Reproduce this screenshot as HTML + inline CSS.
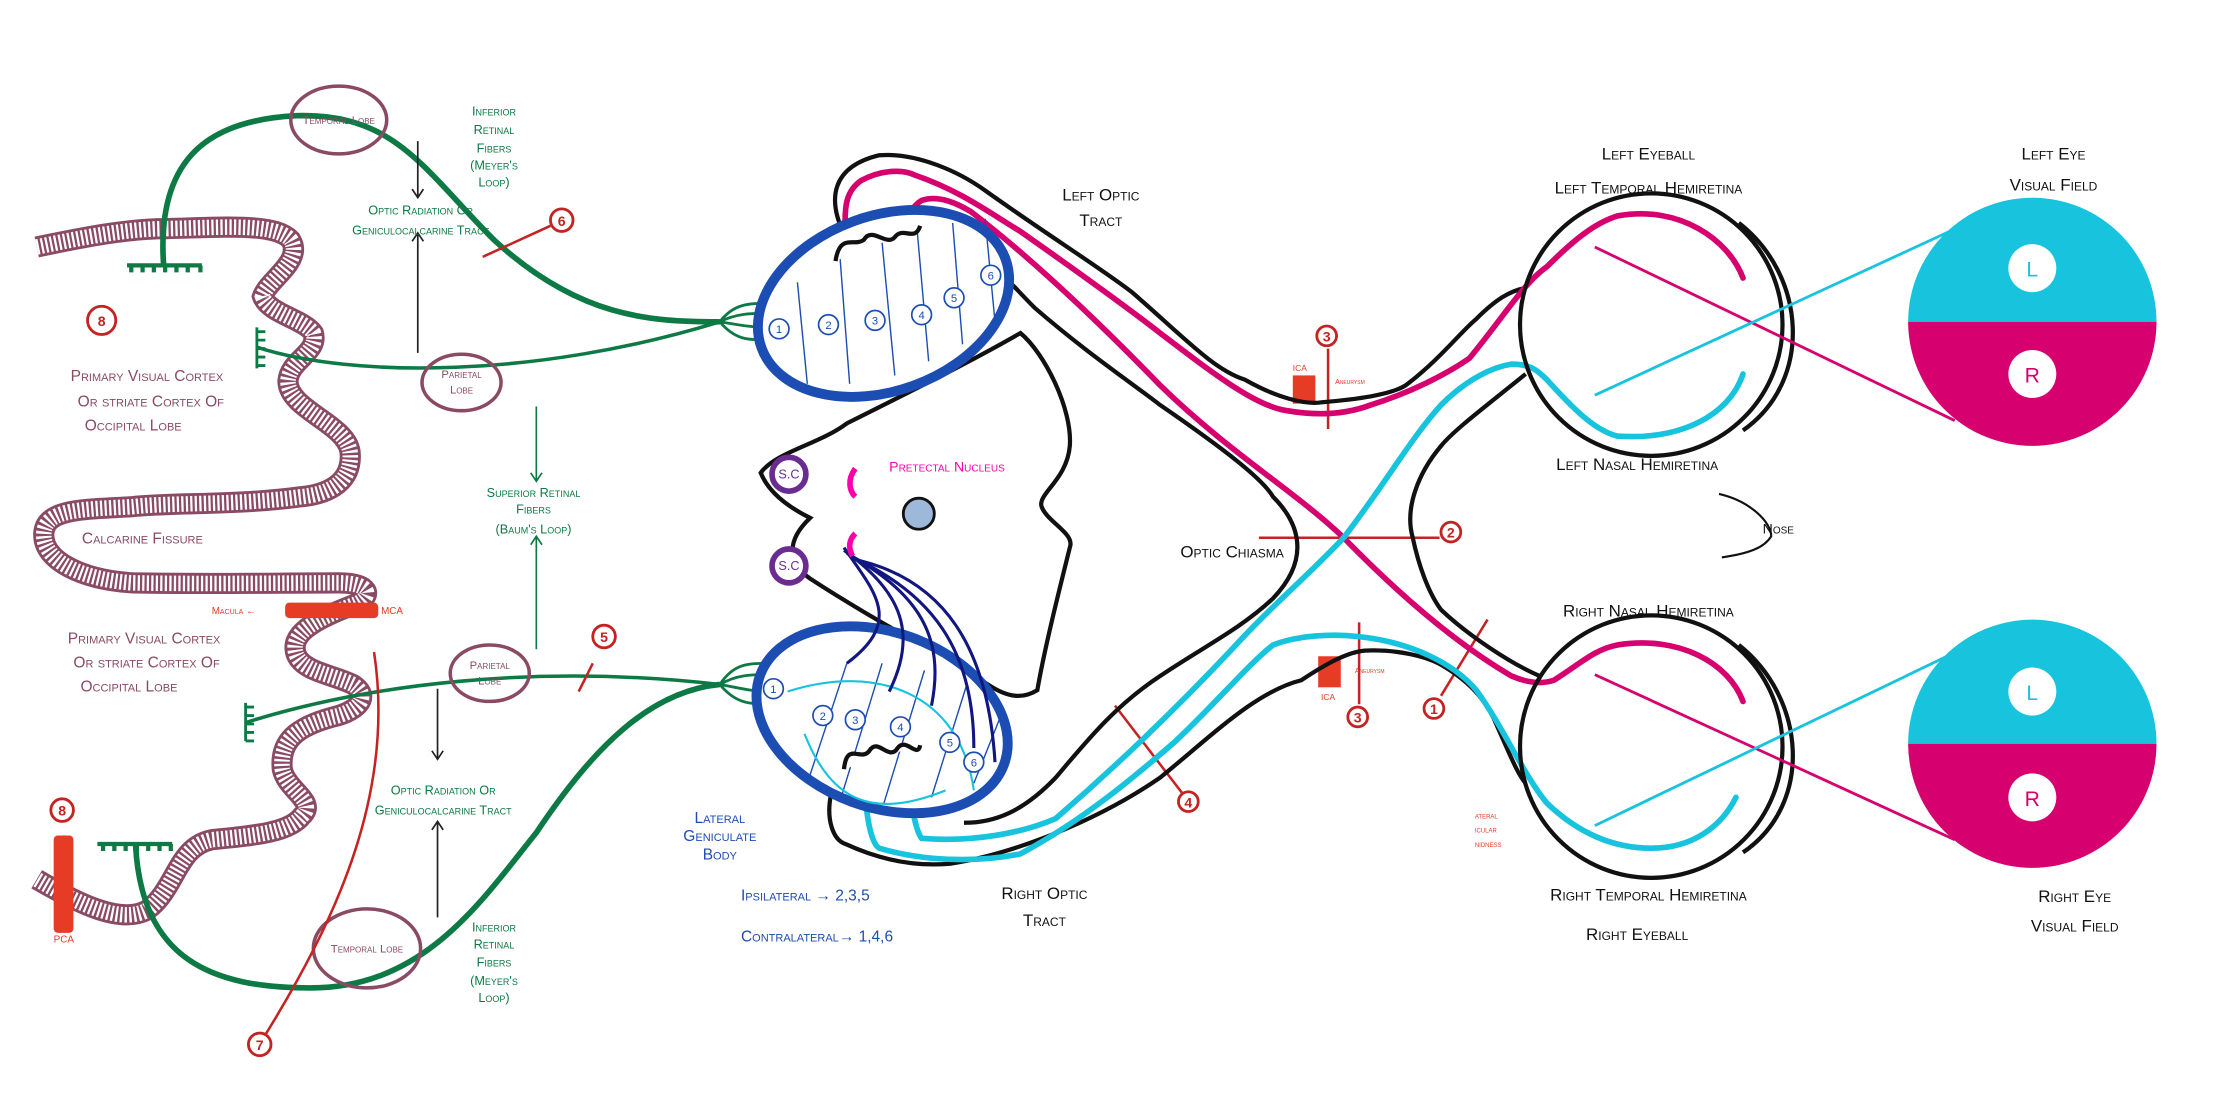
<!DOCTYPE html>
<html><head><meta charset="utf-8"><style>
html,body{margin:0;padding:0;background:#fff;}
svg{display:block;}
text{font-family:"Liberation Sans",sans-serif;font-variant:small-caps;}
</style></head><body>
<svg width="2213" height="1098" viewBox="0 0 1568 778" xmlns="http://www.w3.org/2000/svg">
<rect width="1568" height="778" fill="#fff"/>

<!-- cortex ribbon -->
<path id="rib" d="M26,175 C60,168 90,162 118,162 C160,161 195,158 206,170 C215,185 190,198 186,210 C190,222 215,226 222,236 C226,250 205,255 204,270 C204,290 245,300 248,320 C250,340 235,350 213,352 C170,358 120,356 94,359 C60,361 32,360 31,378 C30,398 60,411 94,413 C150,414 200,413 240,413 C262,413 265,422 252,428 C220,440 205,450 210,464 C215,476 236,478 250,485 C265,495 250,505 236,508 C210,515 198,525 200,545 C203,560 225,568 214,578 C205,590 180,592 150,595 C125,600 125,630 104,645 C85,655 55,640 26,623" fill="none" stroke="#8a4a63" stroke-width="15" stroke-linecap="butt"/>
<path d="M26,175 C60,168 90,162 118,162 C160,161 195,158 206,170 C215,185 190,198 186,210 C190,222 215,226 222,236 C226,250 205,255 204,270 C204,290 245,300 248,320 C250,340 235,350 213,352 C170,358 120,356 94,359 C60,361 32,360 31,378 C30,398 60,411 94,413 C150,414 200,413 240,413 C262,413 265,422 252,428 C220,440 205,450 210,464 C215,476 236,478 250,485 C265,495 250,505 236,508 C210,515 198,525 200,545 C203,560 225,568 214,578 C205,590 180,592 150,595 C125,600 125,630 104,645 C85,655 55,640 26,623" fill="none" stroke="#fff" stroke-width="11" stroke-dasharray="1.6 1.6"/>

<!-- green fibers -->
<g fill="none" stroke="#0d7a45">
<path d="M116,189 C110,110 150,85 210,82 C280,80 300,120 350,170 C410,225 460,228 510,228" stroke-width="4"/>
<path d="M182,246 C250,268 380,268 510,228" stroke-width="2.5"/>
<path d="M174,512 C260,485 380,470 510,485" stroke-width="2.5"/>
<path d="M96,598 C100,680 150,700 220,700 C300,700 340,640 380,590 C420,530 460,490 510,485" stroke-width="4"/>
<path d="M510,228 C520,215 530,215 545,215 M510,228 C522,222 532,222 545,222 M510,228 C522,230 532,232 545,232 M510,228 C520,240 530,242 545,240" stroke-width="2"/>
<path d="M510,485 C520,470 530,470 545,470 M510,485 C522,478 532,478 545,478 M510,485 C522,487 532,490 545,490 M510,485 C520,497 530,500 545,498" stroke-width="2"/>
<path d="M90,188 H143 M93,188v5 M101,188v5 M109,188v5 M117,188v5 M125,188v5 M133,188v5 M142,188v5" stroke-width="3"/>
<path d="M69,598 H122 M73,598v5 M81,598v5 M89,598v5 M97,598v5 M105,598v5 M113,598v5 M121,598v5" stroke-width="3"/>
<path d="M182,232 V261 M182,235h6 M182,241h6 M182,247h6 M182,253h6 M182,259h6" stroke-width="2"/>
<path d="M174,498 V525 M174,501h6 M174,507h6 M174,513h6 M174,519h6 M174,525h6" stroke-width="2"/>
<path d="M380,288 V340 M376,335 L380,341 L384,335 M380,460 V380 M376,386 L380,380 L384,386" stroke-width="1.2"/>
</g>
<g fill="none" stroke="#222" stroke-width="1.2">
<path d="M296,100 V140 M292,134 L296,140 L300,134"/>
<path d="M296,250 V165 M292,171 L296,165 L300,171"/>
<path d="M310,488 V538 M306,532 L310,538 L314,532"/>
<path d="M310,650 V582 M306,588 L310,582 L314,588"/>
</g>
<g fill="none" stroke="#8a4a63" stroke-width="2.5">
<ellipse cx="240" cy="85" rx="34" ry="24"/>
<ellipse cx="327" cy="271" rx="28" ry="20"/>
<ellipse cx="347" cy="477" rx="28" ry="20"/>
<ellipse cx="260" cy="672" rx="38" ry="28"/>
</g>
<g fill="#8a4a63" font-size="8">
<text x="240" y="88" text-anchor="middle">Temporal Lobe</text>
<text x="327" y="268" text-anchor="middle">Parietal</text><text x="327" y="279" text-anchor="middle">Lobe</text>
<text x="347" y="474" text-anchor="middle">Parietal</text><text x="347" y="485" text-anchor="middle">Lobe</text>
<text x="260" y="675" text-anchor="middle">Temporal Lobe</text>
</g>
<g fill="#8a4a63" font-size="11">
<text x="50" y="270">Primary Visual Cortex</text><text x="55" y="288">Or striate Cortex Of</text><text x="60" y="305">Occipital Lobe</text>
<text x="58" y="385">Calcarine Fissure</text>
<text x="48" y="456">Primary Visual Cortex</text><text x="52" y="473">Or striate Cortex Of</text><text x="57" y="490">Occipital Lobe</text>
</g>
<g fill="#0d7a45" font-size="9" text-anchor="middle">
<text x="350" y="82">Inferior</text><text x="350" y="95">Retinal</text><text x="350" y="108">Fibers</text><text x="350" y="120">(Meyer's</text><text x="350" y="132">Loop)</text>
<text x="298" y="152">Optic  Radiation Or</text><text x="298" y="166">Geniculocalcarine Tract</text>
<text x="378" y="352">Superior Retinal</text><text x="378" y="364">Fibers</text><text x="378" y="378">(Baum's Loop)</text>
<text x="314" y="563">Optic Radiation Or</text><text x="314" y="577">Geniculocalcarine Tract</text>
<text x="350" y="660">Inferior</text><text x="350" y="672">Retinal</text><text x="350" y="685">Fibers</text><text x="350" y="698">(Meyer's</text><text x="350" y="710">Loop)</text>
</g>

<!-- red vessels and markers -->
<rect x="202" y="427" width="66" height="11" rx="3" fill="#e63b25"/>
<text x="150" y="435" fill="#e63b25" font-size="7">Macula ←</text>
<text x="270" y="435" fill="#e63b25" font-size="7">MCA</text>
<rect x="38" y="592" width="14" height="69" rx="3" fill="#e63b25"/>
<text x="38" y="668" fill="#e63b25" font-size="7">PCA</text>
<path d="M265,462 C280,560 240,650 185,738" fill="none" stroke="#c52222" stroke-width="1.8"/>
<g fill="none" stroke="#c52222" stroke-width="1.8">
<path d="M342,182 L390,160"/><path d="M410,490 L420,470"/>
<path d="M790,500 L840,565"/><path d="M1021,493 L1054,439"/>
<path d="M892,381 H1020"/><path d="M941,247 V304"/><path d="M963,441 V499"/>
</g>
<g fill="#fff" stroke="#c52222" stroke-width="2">
<circle cx="398" cy="156" r="8"/><circle cx="428" cy="451" r="8"/><circle cx="72" cy="227" r="10"/><circle cx="44" cy="574" r="8"/><circle cx="184" cy="740" r="8"/><circle cx="940" cy="238" r="7"/><circle cx="962" cy="508" r="7"/><circle cx="842" cy="568" r="7"/><circle cx="1028" cy="377" r="7"/><circle cx="1016" cy="502" r="7"/>
</g>
<g fill="#c52222" font-size="10" text-anchor="middle" font-weight="bold">
<text x="398" y="160">6</text><text x="428" y="455">5</text><text x="72" y="231">8</text><text x="44" y="578">8</text><text x="184" y="744">7</text><text x="940" y="242">3</text><text x="962" y="512">3</text><text x="842" y="572">4</text><text x="1028" y="381">2</text><text x="1016" y="506">1</text>
</g>
<rect x="916" y="266" width="16" height="20" fill="#e63b25"/><text x="916" y="263" fill="#e63b25" font-size="6">ICA</text>
<rect x="934" y="465" width="16" height="22" fill="#e63b25"/><text x="936" y="496" fill="#e63b25" font-size="6">ICA</text>
<text x="946" y="272" fill="#e63b25" font-size="5">Aneurysm</text><text x="960" y="477" fill="#e63b25" font-size="5">Aneurysm</text>
<text x="1045" y="580" fill="#e63b25" font-size="6">ateral</text><text x="1045" y="590" fill="#e63b25" font-size="6">icular</text><text x="1045" y="600" fill="#e63b25" font-size="6">nidness</text>

<!-- midbrain -->
<path d="M600,300 C650,275 690,255 723,236 C740,250 760,290 758,316 C756,340 735,350 738,359 C742,370 762,378 758,388 C750,420 740,460 735,489 C725,495 715,495 700,485 C660,460 620,440 574,410 C560,400 555,385 574,367 C560,360 545,350 539,335 C550,320 580,315 600,300Z" fill="#fff" stroke="#111" stroke-width="3"/>

<!-- optic tract black outlines -->
<g fill="none" stroke="#111" stroke-width="3">
<path d="M599,168 C585,140 590,118 623,110 C650,108 680,122 698,135 C740,165 780,190 802,207 C840,240 860,262 882,269 C905,282 925,287 937,285 C960,283 985,280 996,273 C1020,255 1035,235 1046,226 C1060,212 1070,206 1081,204"/>
<path d="M658,153 C690,170 715,200 733,218 C770,250 800,270 822,287 C870,320 895,340 902,352 C925,375 925,400 902,424 C880,445 850,460 822,479 C790,500 770,525 748,551 C725,575 705,583 683,583"/>
<path d="M589,562 C585,580 590,595 599,598 C625,610 650,614 673,612 C720,605 780,580 822,551 C860,520 890,490 922,482 C940,470 955,462 967,461 C990,460 1010,465 1021,471 C1045,485 1055,500 1061,515 C1070,535 1075,548 1081,555"/>
<path d="M1081,265 C1050,290 1030,305 1021,316 C1005,335 995,360 1001,381 C1005,400 1012,420 1021,432 C1040,450 1070,470 1091,479"/>
</g>
<!-- magenta & cyan fibers -->
<g fill="none" stroke-width="4" stroke-linecap="round">
<path d="M599,164 C598,145 600,135 610,128 C625,120 640,120 648,124 C680,135 700,150 723,164 C760,190 795,215 822,236 C860,265 890,288 912,291 C935,295 955,293 971,287 C1000,278 1025,265 1041,254 C1065,225 1080,200 1096,189 C1115,170 1130,158 1146,153 C1190,145 1225,170 1235,197" stroke="#d6006e"/>
<path d="M643,164 C642,155 646,146 653,142 C665,138 678,144 688,150 C740,190 790,240 822,273 C870,320 920,350 952,381 C990,420 1030,455 1071,479 C1085,485 1095,484 1101,482 C1120,470 1130,460 1146,457 C1190,450 1225,470 1235,497" stroke="#d6006e"/>
<path d="M613,565 C615,585 618,598 623,601 C660,612 700,610 723,605 C770,580 810,545 832,526 C860,500 885,470 902,457 C920,450 945,449 962,451 C1000,455 1030,470 1046,489 C1065,515 1080,550 1096,569 C1120,592 1145,601 1170,601 C1200,601 1220,585 1230,565" stroke="#17c3dd"/>
<path d="M643,547 C645,565 648,588 653,594 C690,597 725,590 748,580 C800,535 840,495 872,461 C900,430 930,405 952,381 C980,345 1000,310 1021,287 C1040,268 1058,260 1071,258 C1085,258 1090,263 1096,269 C1115,290 1130,305 1146,309 C1190,312 1225,295 1235,265" stroke="#17c3dd"/>
</g>
<!-- LGN top -->
<ellipse cx="626" cy="215" rx="92" ry="62" transform="rotate(-20 626 215)" fill="#fff" stroke="#1c4db3" stroke-width="7"/>
<g stroke="#1c4db3" stroke-width="1" fill="none">
<path d="M565,200 L572,272 M595,180 L602,272 M625,172 L634,266 M650,165 L658,256 M675,158 L682,244 M698,155 L705,228"/>
</g>
<path d="M592,185 C595,165 605,175 612,170 C618,160 628,175 634,168 C640,160 648,172 652,160" fill="#fff" stroke="#111" stroke-width="3"/>
<!-- LGN bottom -->
<ellipse cx="625" cy="510" rx="92" ry="62" transform="rotate(20 625 510)" fill="#fff" stroke="#1c4db3" stroke-width="7"/>
<g stroke="#1c4db3" stroke-width="1" fill="none">
<path d="M572,555 L600,470 M596,565 L625,470 M626,570 L655,475 M660,565 L685,485 M690,555 L708,510"/>
</g>
<g fill="none" stroke="#17c3dd" stroke-width="1.5"><path d="M558,490 C620,470 680,490 690,560"/><path d="M570,520 C590,570 620,580 670,560"/></g>
<g fill="none" stroke="#121680" stroke-width="2.2">
<path d="M598,388 C620,420 640,440 600,470"/><path d="M598,390 C640,420 650,450 630,490"/><path d="M600,392 C650,420 670,450 660,500"/><path d="M602,394 C660,420 690,460 690,530"/><path d="M604,396 C670,410 700,460 705,540"/>
</g>
<path d="M598,545 C600,525 610,540 616,532 C622,522 630,540 636,530 C642,522 650,538 652,528" fill="#fff" stroke="#111" stroke-width="3"/>
<g fill="#fff" stroke="#1c4db3" stroke-width="1.2">
<circle cx="552" cy="233" r="7"/><circle cx="587" cy="230" r="7"/><circle cx="620" cy="227" r="7"/><circle cx="653" cy="223" r="7"/><circle cx="676" cy="211" r="7"/><circle cx="702" cy="195" r="7"/>
<circle cx="548" cy="488" r="7"/><circle cx="583" cy="507" r="7"/><circle cx="606" cy="510" r="7"/><circle cx="638" cy="515" r="7"/><circle cx="673" cy="526" r="7"/><circle cx="690" cy="540" r="7"/>
</g>
<g fill="#1c4db3" font-size="8" text-anchor="middle">
<text x="552" y="236">1</text><text x="587" y="233">2</text><text x="620" y="230">3</text><text x="653" y="226">4</text><text x="676" y="214">5</text><text x="702" y="198">6</text>
<text x="548" y="491">1</text><text x="583" y="510">2</text><text x="606" y="513">3</text><text x="638" y="518">4</text><text x="673" y="529">5</text><text x="690" y="543">6</text>
</g>
<g fill="#fff" stroke="#6a2c91" stroke-width="4"><circle cx="559" cy="336" r="12"/><circle cx="559" cy="401" r="12"/></g>
<g fill="#6a2c91" font-size="9" text-anchor="middle"><text x="559" y="339">S.C</text><text x="559" y="404">S.C</text></g>
<g fill="none" stroke="#ff00a8" stroke-width="4"><path d="M606,332 C600,340 602,348 606,352"/><path d="M606,378 C600,384 602,390 604,394"/></g>
<circle cx="651" cy="364" r="11" fill="#9db8d9" stroke="#111" stroke-width="2"/>
<text x="630" y="334" fill="#ff00a8" font-size="10">Pretectal Nucleus</text>

<!-- eyeballs -->
<g fill="none" stroke="#111" stroke-width="3">
<circle cx="1170" cy="230" r="93"/><path d="M1232,158 C1280,195 1285,270 1235,305"/>
<circle cx="1170" cy="529" r="93"/><path d="M1232,457 C1280,495 1285,570 1235,604"/>
<path d="M1218,350 C1240,355 1255,370 1255,380 C1250,388 1240,392 1220,395" stroke-width="1.5"/>
</g>
<g fill="none" stroke-width="2"><line x1="1130" y1="175" x2="1385" y2="298" stroke="#d6006e"/><line x1="1130" y1="280" x2="1390" y2="160" stroke="#17c3dd"/>
<line x1="1130" y1="478" x2="1385" y2="595" stroke="#d6006e"/><line x1="1130" y1="585" x2="1390" y2="460" stroke="#17c3dd"/></g>
<path d="M1352,228 A88,88 0 0 1 1528,228Z" fill="#17c3dd"/><path d="M1352,228 A88,88 0 0 0 1528,228Z" fill="#d6006e"/>
<path d="M1352,527 A88,88 0 0 1 1528,527Z" fill="#17c3dd"/><path d="M1352,527 A88,88 0 0 0 1528,527Z" fill="#d6006e"/>
<g fill="#fff"><circle cx="1440" cy="190" r="17"/><circle cx="1440" cy="265" r="17"/><circle cx="1440" cy="490" r="17"/><circle cx="1440" cy="565" r="17"/></g>
<g font-size="15" text-anchor="middle"><text x="1440" y="196" fill="#17c3dd">L</text><text x="1440" y="271" fill="#d6006e">R</text><text x="1440" y="496" fill="#17c3dd">L</text><text x="1440" y="571" fill="#d6006e">R</text></g>

<g fill="#111" font-size="12" text-anchor="middle">
<text x="780" y="142">Left Optic</text><text x="780" y="160">Tract</text>
<text x="1168" y="113">Left Eyeball</text><text x="1168" y="137">Left Temporal Hemiretina</text>
<text x="1455" y="113">Left Eye</text><text x="1455" y="135">Visual Field</text>
<text x="1160" y="333">Left Nasal Hemiretina</text>
<text x="1260" y="378" font-size="10">Nose</text>
<text x="873" y="395">Optic Chiasma</text>
<text x="1168" y="437">Right Nasal Hemiretina</text>
<text x="740" y="637">Right Optic</text><text x="740" y="656">Tract</text>
<text x="1168" y="638">Right Temporal Hemiretina</text><text x="1160" y="666">Right Eyeball</text>
<text x="1470" y="639">Right Eye</text><text x="1470" y="660">Visual Field</text>
</g>
<g fill="#1c4db3" font-size="11">
<text x="510" y="583" text-anchor="middle">Lateral</text><text x="510" y="596" text-anchor="middle">Geniculate</text><text x="510" y="609" text-anchor="middle">Body</text>
<text x="525" y="638">Ipsilateral  →  2,3,5</text>
<text x="525" y="667">Contralateral→ 1,4,6</text>
</g>
</svg>
</body></html>
